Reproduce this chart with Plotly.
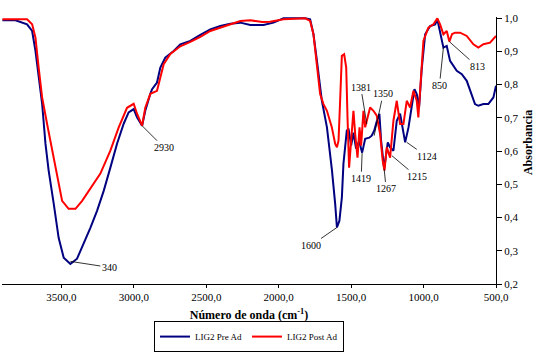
import plotly.graph_objects as go

# ---- data ----
pre_wn = [3907, 3817, 3737, 3702, 3679, 3657, 3633, 3610, 3588, 3553, 3519, 3484, 3438, 3392, 3346, 3300,
          3254, 3208, 3162, 3116, 3070, 3036, 3001, 2978, 2943, 2921, 2886, 2874, 2840, 2817, 2783, 2725,
          2679, 2610, 2541, 2472, 2403, 2334, 2265, 2196, 2105, 2036, 1967, 1817, 1783, 1760, 1736, 1702,
          1667, 1633, 1610, 1598, 1581, 1564, 1553, 1530, 1518, 1500, 1484, 1466, 1445, 1424, 1403, 1375,
          1358, 1341, 1322, 1305, 1293, 1272, 1247, 1231, 1208, 1185, 1162, 1139, 1127, 1104, 1081, 1063,
          1047, 1031, 1012, 989, 955, 920, 905, 886, 863, 840, 817, 771, 736, 702, 667, 645, 622, 587, 553,
          518, 500]
pre_ab = [0.993, 0.993, 0.981, 0.961, 0.901, 0.821, 0.742, 0.622, 0.541, 0.442, 0.339, 0.279, 0.260, 0.276,
          0.321, 0.369, 0.420, 0.480, 0.550, 0.622, 0.682, 0.716, 0.726, 0.701, 0.676, 0.721, 0.772, 0.786,
          0.806, 0.851, 0.881, 0.901, 0.921, 0.931, 0.949, 0.966, 0.976, 0.983, 0.986, 0.979, 0.979, 0.986,
          0.999, 0.999, 0.996, 0.951, 0.871, 0.751, 0.671, 0.545, 0.440, 0.370, 0.390, 0.460, 0.562, 0.661,
          0.667, 0.616, 0.655, 0.607, 0.630, 0.595, 0.637, 0.640, 0.646, 0.661, 0.691, 0.712, 0.631, 0.546,
          0.626, 0.611, 0.601, 0.691, 0.712, 0.661, 0.626, 0.671, 0.731, 0.786, 0.771, 0.731, 0.851, 0.951,
          0.976, 0.981, 0.996, 0.961, 0.911, 0.916, 0.871, 0.841, 0.831, 0.811, 0.771, 0.741, 0.736, 0.741,
          0.741, 0.761, 0.796]

post_wn = [3907, 3737, 3702, 3679, 3657, 3633, 3599, 3564, 3530, 3495, 3450, 3403, 3357, 3300, 3231, 3162,
           3105, 3047, 3001, 2978, 2943, 2921, 2886, 2840, 2794, 2748, 2679, 2610, 2541, 2472, 2403, 2334,
           2265, 2196, 2113, 2059, 1967, 1817, 1783, 1760, 1736, 1714, 1691, 1667, 1633, 1610, 1598, 1587,
           1576, 1564, 1548, 1534, 1525, 1514, 1500, 1484, 1472, 1456, 1442, 1431, 1415, 1403, 1392, 1369,
           1346, 1323, 1300, 1282, 1270, 1254, 1242, 1231, 1208, 1185, 1162, 1139, 1116, 1093, 1070, 1047,
           1036, 1019, 1001, 967, 932, 905, 886, 863, 840, 822, 803, 782, 748, 702, 656, 622, 587, 541, 500]
post_ab = [0.996, 0.996, 0.981, 0.941, 0.851, 0.761, 0.682, 0.601, 0.520, 0.450, 0.426, 0.426, 0.450, 0.489,
           0.532, 0.601, 0.670, 0.730, 0.742, 0.712, 0.676, 0.730, 0.772, 0.781, 0.861, 0.892, 0.915, 0.928,
           0.943, 0.961, 0.971, 0.982, 0.991, 0.993, 0.988, 0.989, 0.996, 0.999, 0.991, 0.951, 0.851, 0.771,
           0.741, 0.721, 0.671, 0.621, 0.611, 0.631, 0.751, 0.886, 0.891, 0.851, 0.701, 0.550, 0.631, 0.721,
           0.651, 0.580, 0.671, 0.616, 0.721, 0.671, 0.691, 0.731, 0.721, 0.706, 0.651, 0.571, 0.541, 0.611,
           0.595, 0.580, 0.691, 0.751, 0.681, 0.681, 0.751, 0.731, 0.781, 0.751, 0.701, 0.821, 0.931, 0.971,
           0.981, 0.999, 0.981, 0.951, 0.961, 0.929, 0.952, 0.956, 0.956, 0.946, 0.921, 0.911, 0.921, 0.926,
           0.946]

peak_labels = ["340", "2930", "1600", "1419", "1267", "1381", "1350", "1215", "1124", "850", "813"]
peak_wn = [3438, 2943, 1598, 1424, 1272, 1392, 1341, 1219, 1116, 863, 822]
peak_ab = [0.268, 0.676, 0.370, 0.595, 0.546, 0.681, 0.646, 0.586, 0.626, 0.911, 0.929]
peak_dx = [39, 22, -26, -1, 2, -6, 9, 25, 20, -4, 28]
peak_dy = [6, 22, 18, 26, 20, -37, -42, 21, 14, 38, 25]

x_tickvals = [3500, 3000, 2500, 2000, 1500, 1000, 500]
x_ticktext = ["3500,0", "3000,0", "2500,0", "2000,0", "1500,0", "1000,0", "500,0"]
y_tickvals = [0.2, 0.3, 0.4, 0.5, 0.6, 0.7, 0.8, 0.9, 1.0]
y_ticktext = ["0,2", "0,3", "0,4", "0,5", "0,6", "0,7", "0,8", "0,9", "1,0"]
y_title = "Absorbancia"
x_title = "Número de onda (cm<sup>-1</sup>)"

FONT = "Times New Roman, Liberation Serif, DejaVu Serif, serif"

fig = go.Figure()
fig.add_trace(go.Scatter(x=pre_wn, y=pre_ab, mode="lines", name="LIG2 Pre Ad",
                         line=dict(color="#000080", width=2)))
fig.add_trace(go.Scatter(x=post_wn, y=post_ab, mode="lines", name="LIG2 Post Ad",
                         line=dict(color="#FF0000", width=2)))

for t, x, y, dx, dy in zip(peak_labels, peak_wn, peak_ab, peak_dx, peak_dy):
    fig.add_annotation(x=x, y=y, text=t, showarrow=True, arrowhead=0, arrowwidth=0.8,
                       arrowcolor="black", ax=dx, ay=dy, standoff=0,
                       font=dict(family=FONT, size=10, color="black"))

# y-axis title placed to the right of the tick labels
fig.add_annotation(xref="paper", yref="paper", x=1.066, y=0.53, text="<b>" + y_title + "</b>",
                   showarrow=False, textangle=-90, xanchor="center", yanchor="middle",
                   font=dict(family=FONT, size=12, color="black"))

fig.update_layout(
    width=538, height=357,
    margin=dict(l=2, r=42, t=17, b=73, autoexpand=False),
    paper_bgcolor="white", plot_bgcolor="white",
    font=dict(family=FONT, size=11, color="black"),
    showlegend=True,
    legend=dict(orientation="h", x=0.5, xanchor="center", y=-0.255, yanchor="bottom",
                bordercolor="black", borderwidth=1, font=dict(size=9, family=FONT),
                itemwidth=30, tracegroupgap=0),
)
fig.update_xaxes(range=[3910, 500], tickvals=x_tickvals, ticktext=x_ticktext,
                 showline=True, linecolor="black", linewidth=1, ticks="outside", ticklen=3,
                 tickcolor="black", showgrid=False, zeroline=False,
                 tickfont=dict(size=11, family=FONT),
                 title=dict(text="<b>" + x_title + "</b>", font=dict(size=12, family=FONT),
                            standoff=8))
fig.update_yaxes(range=[0.2, 1.003], side="right", tickvals=y_tickvals, ticktext=y_ticktext,
                 showline=True, linecolor="black", linewidth=1, ticks="outside", ticklen=5,
                 tickcolor="black", showgrid=False, zeroline=False,
                 tickfont=dict(size=11, family=FONT))

fig.write_html("out.html", config={"displayModeBar": False},
               post_script="document.body.style.margin='0';")
